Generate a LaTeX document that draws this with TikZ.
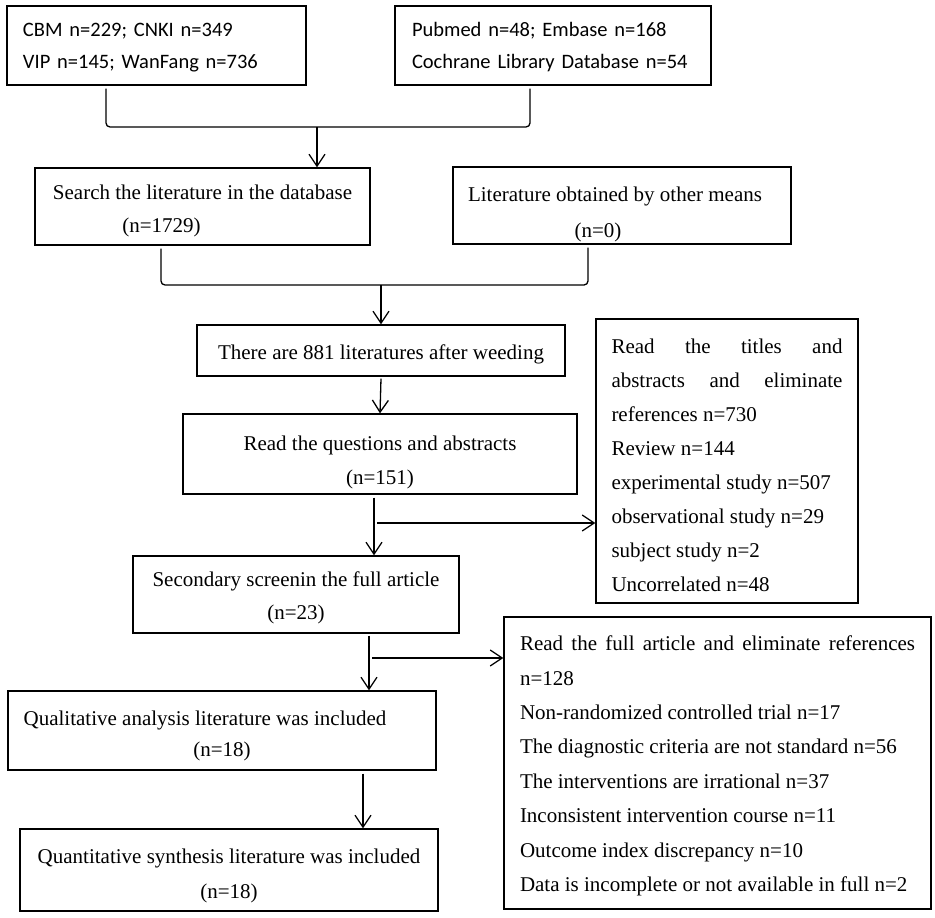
\documentclass[tikz,border=0pt]{standalone}
\usepackage{fontspec}
\setmainfont{Liberation Serif}
\newfontfamily\calibfont{Carlito}
\usetikzlibrary{arrows.meta, positioning}

\begin{document}
\begin{tikzpicture}[x=1pt,y=-1pt,line width=1.3pt,>={Straight Barb[length=12pt,width=16pt]}]
    \tikzstyle{box}=[shape=rectangle,draw,inner sep=0pt,align=center,text depth=0pt,font=\fontsize{21}{33}\selectfont]
    \tikzstyle{dbbox}=[box,align=left,text height=20pt,font=\calibfont\fontsize{20.5}{32.3}\selectfont\frenchspacing]
    \tikzstyle{listbox}=[box,align=justify,text height=20pt,font=\fontsize{21}{34}\selectfont]
    \useasboundingbox (0,0) rectangle (935,918);

    \node[dbbox, minimum width=299pt, minimum height=79pt, text width=267pt, text depth=39pt] (cbm) at (156.5,45.5)
        {CBM n=229; CNKI n=349\\VIP n=145; WanFang n=736};
    \node[dbbox, minimum width=316pt, minimum height=79pt, text width=282pt, text depth=39pt] (pub) at (553,45.5)
        {Pubmed n=48; Embase n=168\\Cochrane Library Database n=54};
    \node[box, minimum width=335pt, minimum height=77pt, text height=51.6pt] (search) at (202.5,206.5)
        {Search the literature in the database\\(n=1729)\hspace*{82pt}};
    \node[box, minimum width=338pt, minimum height=77pt, text height=64.4pt, font=\fontsize{21}{36}\selectfont] (other) at (622,205.5)
        {Literature obtained by other means\hspace*{14pt}\\(n=0)\hspace*{48pt}};
    \node[box, minimum width=368pt, minimum height=51pt, text height=17pt] (weed) at (381,350.5)
        {There are 881 literatures after weeding};
    \node[box, minimum width=394pt, minimum height=80pt, text height=60pt, font=\fontsize{21}{34}\selectfont] (quest) at (380,454)
        {Read the questions and abstracts\\(n=151)};
    \node[listbox, minimum width=262pt, minimum height=284pt, text width=231pt, text depth=235.4pt] (excl1) at (727,461)
        {Read the titles and\linebreak abstracts and eliminate\linebreak references n=730\\Review n=144\\experimental study n=507\\observational study n=29\\subject study n=2\\Uncorrelated n=48};
    \node[box, minimum width=326pt, minimum height=77pt, text height=49pt, font=\fontsize{21}{32.5}\selectfont] (second) at (296,594.5)
        {Secondary screenin the full article\\(n=23)};
    \node[listbox, minimum width=427pt, minimum height=292pt, text width=395pt, text depth=244.6pt, font=\fontsize{21}{34.4}\selectfont] (excl2) at (717.5,763)
        {Read the full article and eliminate references\linebreak n=128\\Non-randomized controlled trial n=17\\The diagnostic criteria are not standard n=56\\The interventions are irrational n=37\\Inconsistent intervention course n=11\\Outcome index discrepancy n=10\\Data is incomplete or not available in full n=2};
    \node[box, minimum width=428pt, minimum height=79pt, text height=52.4pt, font=\fontsize{21}{31.7}\selectfont] (qual) at (222,730.5)
        {Qualitative analysis literature was included\hspace*{34pt}\\(n=18)};
    \node[box, minimum width=418pt, minimum height=82pt, text height=56.6pt, font=\fontsize{21}{35}\selectfont] (quant) at (229,870)
        {Quantitative synthesis literature was included\\(n=18)};

    \coordinate (j1) at (317,127);
    \coordinate (j2) at (381,285);
    \coordinate (s1) at (377,523);
    \coordinate (s2) at (372,658);

    \draw[rounded corners=4pt] ([xshift=-50.5pt,yshift=-3pt]cbm.south) |- (j1) -| ([xshift=-23pt,yshift=-3pt]pub.south);
    \draw[rounded corners=4pt] ([xshift=-41.5pt,yshift=-3pt]search.south) |- (j2) -| ([xshift=-34pt,yshift=-3pt]other.south);

    \path[->]
    (j1) edge (j1 |- search.north)
    (j2) edge (weed.north)
    ([yshift=-2pt]weed.south) edge (quest.north)
    ([xshift=-6pt,yshift=-3pt]quest.south) edge ([xshift=-6pt]quest.south |- second.north)
    (s1) edge (s1 -| excl1.west)
    ([xshift=73pt,yshift=-2pt]second.south) edge ([xshift=73pt]second.south |- qual.north)
    (s2) edge (s2 -| excl2.west)
    ([xshift=141pt,yshift=-3pt]qual.south) edge ([xshift=141pt]qual.south |- quant.north)
    ;

\end{tikzpicture}
\end{document}
